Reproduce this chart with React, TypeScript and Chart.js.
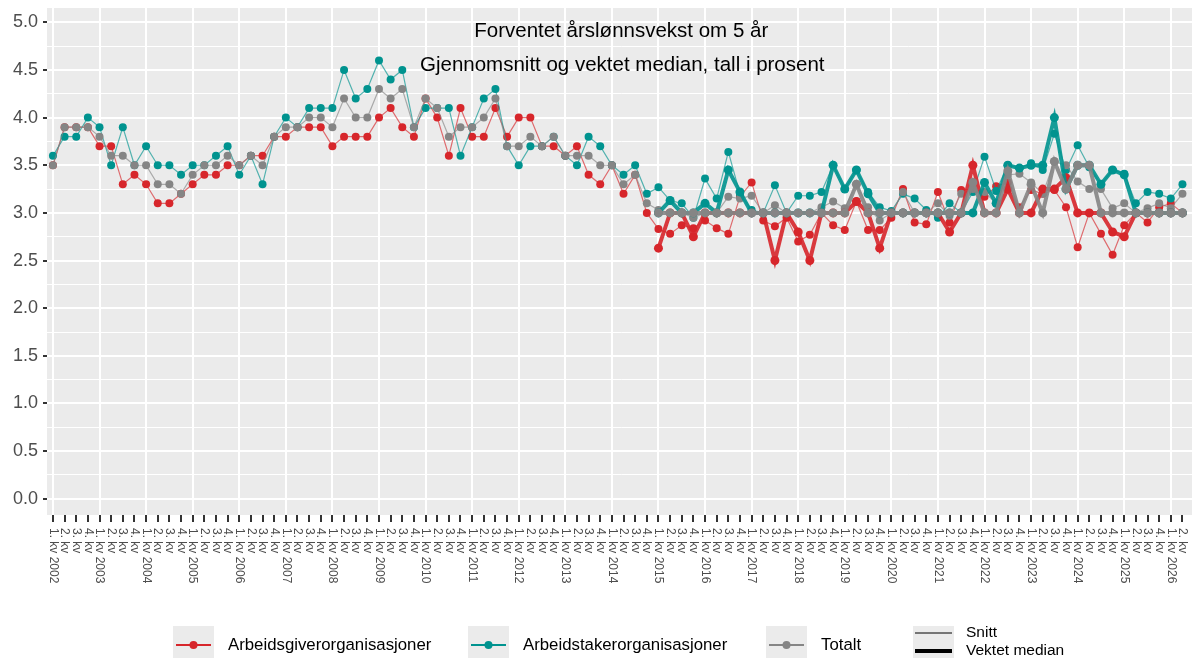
import React, { useEffect, useRef } from 'react';
import { Chart, registerables } from 'chart.js';

Chart.register(...registerables);

const FONT = '"Liberation Sans", Arial, Helvetica, sans-serif';

// Quarters 1. kv 2002 ... 2. kv 2026
const years = [2002, 2003, 2004, 2005, 2006, 2007, 2008, 2009, 2010, 2011, 2012, 2013, 2014, 2015, 2016, 2017, 2018, 2019, 2020, 2021, 2022, 2023, 2024, 2025, 2026];
const quarterNames = ['1. kv', '2. kv', '3. kv', '4. kv'];
const quarterCount = 98;
const medianStart = 52; // 1. kv 2015

// Snitt (gjennomsnitt)
const snittArbeidsgiver = [
  3.5, 3.9, 3.9, 3.9, 3.7, 3.7, 3.3, 3.4, 3.3, 3.1,
  3.1, 3.2, 3.3, 3.4, 3.4, 3.5, 3.5, 3.6, 3.6, 3.8,
  3.8, 3.9, 3.9, 3.9, 3.7, 3.8, 3.8, 3.8, 4.0, 4.1,
  3.9, 3.8, 4.2, 4.0, 3.6, 4.1, 3.8, 3.8, 4.1, 3.8,
  4.0, 4.0, 3.7, 3.7, 3.6, 3.7, 3.4, 3.3, 3.5, 3.2,
  3.4, 3.0,
  2.83, 2.78, 2.87, 2.84, 2.92, 2.84, 2.78, 3.17,
  3.32, 2.92, 2.86, 2.95, 2.70, 2.77, 3.0, 2.87, 2.82, 3.12,
  2.82, 2.82, 2.95, 3.25, 2.9, 2.88, 3.22, 2.9, 3.24, 3.25,
  3.17, 3.28, 3.32, 3.06, 3.24, 3.2, 3.24, 3.06, 2.64, 3.0,
  2.78, 2.56, 2.87, 3.0, 2.9, 3.06, 3.1, 3.0,
];
const snittArbeidstaker = [
  3.6, 3.8, 3.8, 4.0, 3.9, 3.5, 3.9, 3.5, 3.7, 3.5,
  3.5, 3.4, 3.5, 3.5, 3.6, 3.7, 3.4, 3.6, 3.3, 3.8,
  4.0, 3.9, 4.1, 4.1, 4.1, 4.5, 4.2, 4.3, 4.6, 4.4,
  4.5, 3.9, 4.1, 4.1, 4.1, 3.6, 3.9, 4.2, 4.3, 3.7,
  3.5, 3.7, 3.7, 3.8, 3.6, 3.5, 3.8, 3.7, 3.5, 3.4,
  3.5, 3.2,
  3.27, 3.13, 3.1, 2.95, 3.36, 3.15, 3.64, 3.2,
  3.03, 3.0, 3.29, 3.0, 3.18, 3.18, 3.22, 3.5, 3.25, 3.45,
  3.22, 3.06, 3.02, 3.2, 3.15, 3.03, 2.95, 3.1, 3.0, 3.22,
  3.59, 3.23, 3.5, 3.47, 3.52, 3.45, 3.83, 3.45, 3.71, 3.48,
  3.3, 3.45, 3.41, 3.1, 3.22, 3.2, 3.15, 3.3,
];
const snittTotalt = [
  3.5, 3.9, 3.9, 3.9, 3.8, 3.6, 3.6, 3.5, 3.5, 3.3,
  3.3, 3.2, 3.4, 3.5, 3.5, 3.6, 3.5, 3.6, 3.5, 3.8,
  3.9, 3.9, 4.0, 4.0, 3.9, 4.2, 4.0, 4.0, 4.3, 4.2,
  4.3, 3.9, 4.2, 4.1, 3.8, 3.9, 3.9, 4.0, 4.2, 3.7,
  3.7, 3.8, 3.7, 3.8, 3.6, 3.6, 3.6, 3.5, 3.5, 3.3,
  3.4, 3.1,
  3.03, 3.0, 3.0, 2.95, 3.0, 3.0, 3.17, 3.15,
  3.18, 3.0, 3.08, 3.0, 3.0, 3.0, 3.06, 3.12, 3.05, 3.3,
  3.06, 2.92, 3.0, 3.22, 3.0, 3.0, 3.1, 2.97, 3.2, 3.25,
  3.22, 3.1, 3.4, 3.41, 3.32, 3.2, 3.54, 3.5, 3.33, 3.25,
  3.25, 3.05, 3.1, 3.0, 3.05, 3.1, 3.05, 3.2,
];

// Vektet median (fra 1. kv 2015)
const medianArbeidsgiver = [
  2.63, 3.0, 3.0, 2.75, 3.0, 3.0, 3.0, 3.0,
  3.0, 3.0, 2.5, 3.0, 2.8, 2.5, 3.0, 3.0, 3.0, 3.12,
  3.0, 2.63, 3.0, 3.0, 3.0, 3.0, 3.0, 2.8, 3.0, 3.5,
  3.0, 3.0, 3.25, 3.0, 3.0, 3.25, 3.25, 3.37, 3.0, 3.0,
  3.0, 2.8, 2.75, 3.0, 3.0, 3.0, 3.0, 3.0,
];
const medianArbeidstaker = [
  3.0, 3.13, 3.0, 3.0, 3.1, 3.0, 3.45, 3.22,
  3.0, 3.0, 3.0, 3.0, 3.0, 3.0, 3.0, 3.5, 3.25, 3.45,
  3.2, 3.0, 3.0, 3.0, 3.0, 3.0, 3.0, 3.0, 3.0, 3.0,
  3.32, 3.1, 3.5, 3.47, 3.5, 3.5, 4.0, 3.25, 3.5, 3.5,
  3.3, 3.45, 3.4, 3.0, 3.0, 3.0, 3.0, 3.0,
];
const medianTotalt = [
  3.0, 3.0, 3.0, 3.0, 3.0, 3.0, 3.0, 3.0,
  3.0, 3.0, 3.0, 3.0, 3.0, 3.0, 3.0, 3.0, 3.0, 3.3,
  3.0, 3.0, 3.0, 3.0, 3.0, 3.0, 3.0, 3.0, 3.0, 3.32,
  3.0, 3.0, 3.44, 3.0, 3.3, 3.0, 3.54, 3.25, 3.5, 3.5,
  3.0, 3.0, 3.0, 3.0, 3.0, 3.0, 3.0, 3.0,
];

const yTickValues = [0, 0.25, 0.5, 0.75, 1, 1.25, 1.5, 1.75, 2, 2.25, 2.5, 2.75, 3, 3.25, 3.5, 3.75, 4, 4.25, 4.5, 4.75, 5];

const titleText = 'Forventet årslønnsvekst om 5 år';
const subtitleText = 'Gjennomsnitt og vektet median, tall i prosent';
const legendGroups = ['Arbeidsgiverorganisasjoner', 'Arbeidstakerorganisasjoner', 'Totalt'];
const legendTypes = ['Snitt', 'Vektet median'];

const RED = '#d7262b';
const TEAL = '#00938f';
const GRAY = '#858585';

const quarterLabels: string[] = [];
for (let i = 0; i < quarterCount; i++) {
  const y = years[Math.floor(i / 4)];
  const q = i % 4;
  quarterLabels.push(q === 0 ? `${quarterNames[q]} ${y}` : quarterNames[q]);
}

function toPoints(values: number[], start: number) {
  return values.map((v, j) => ({ x: start + j, y: v }));
}

function alpha(hex: string, a: number) {
  const r = parseInt(hex.slice(1, 3), 16);
  const g = parseInt(hex.slice(3, 5), 16);
  const b = parseInt(hex.slice(5, 7), 16);
  return `rgba(${r},${g},${b},${a})`;
}

const isMajor = (v: number) => Math.abs(v * 2 - Math.round(v * 2)) < 1e-6;

const panelPlugin = {
  id: 'panelBg',
  beforeDraw(chart: any) {
    const { ctx, chartArea } = chart;
    ctx.save();
    ctx.fillStyle = '#EBEBEB';
    ctx.fillRect(chartArea.left, chartArea.top, chartArea.right - chartArea.left, chartArea.bottom - chartArea.top);
    ctx.restore();
  },
};

const decorPlugin = {
  id: 'decor',
  afterDraw(chart: any) {
    const { ctx, chartArea } = chart;
    const xs = chart.scales.x;
    ctx.save();
    // x labels, rotated to read downward
    ctx.font = `12px ${FONT}`;
    ctx.fillStyle = '#4D4D4D';
    ctx.textAlign = 'left';
    ctx.textBaseline = 'middle';
    quarterLabels.forEach((lab, i) => {
      const x = xs.getPixelForValue(i);
      ctx.save();
      ctx.translate(x, chartArea.bottom + 13);
      ctx.rotate(Math.PI / 2);
      ctx.fillText(lab, 0, 0);
      ctx.restore();
    });
    // titles (centered over the panel)
    const cx = (chartArea.left + chartArea.right) / 2;
    ctx.fillStyle = '#000000';
    ctx.textAlign = 'center';
    ctx.font = `20.5px ${FONT}`;
    ctx.fillText(titleText, cx, 31);
    ctx.fillText(subtitleText, cx + 1, 65);

    // legend
    const colors = [RED, TEAL, GRAY];
    const boxX = [173, 468, 766];
    const boxTop = 626;
    const box = 41;
    ctx.textAlign = 'left';
    ctx.font = `16.8px ${FONT}`;
    legendGroups.forEach((name, k) => {
      const bx = boxX[k];
      ctx.fillStyle = '#EBEBEB';
      ctx.fillRect(bx, boxTop, box, box);
      const cy = 645;
      ctx.strokeStyle = colors[k];
      ctx.lineWidth = 2;
      ctx.beginPath();
      ctx.moveTo(bx + 3, cy);
      ctx.lineTo(bx + box - 3, cy);
      ctx.stroke();
      ctx.fillStyle = colors[k];
      ctx.beginPath();
      ctx.arc(bx + box / 2, cy, 4, 0, Math.PI * 2);
      ctx.fill();
      ctx.fillStyle = '#000000';
      ctx.fillText(name, bx + 55, cy);
    });
    const bx = 913;
    ctx.fillStyle = '#EBEBEB';
    ctx.fillRect(bx, boxTop, box, box);
    ctx.strokeStyle = '#000000';
    ctx.lineWidth = 1;
    ctx.beginPath();
    ctx.moveTo(bx + 2, 633);
    ctx.lineTo(bx + box - 2, 633);
    ctx.stroke();
    ctx.lineWidth = 4;
    ctx.beginPath();
    ctx.moveTo(bx + 2, 651);
    ctx.lineTo(bx + box - 2, 651);
    ctx.stroke();
    ctx.fillStyle = '#000000';
    ctx.font = `15.5px ${FONT}`;
    ctx.fillText(legendTypes[0], 966, 633);
    ctx.fillText(legendTypes[1], 966, 651);
    ctx.restore();
  },
};

function thin(label: string, values: number[], color: string, order: number) {
  return {
    label,
    data: toPoints(values, 0),
    borderColor: alpha(color, 0.65),
    backgroundColor: color,
    borderWidth: 1.2,
    pointRadius: 4,
    pointBorderWidth: 0,
    pointBackgroundColor: color,
    order,
  };
}
function thick(label: string, values: number[], color: string, order: number) {
  return {
    label,
    data: toPoints(values, medianStart),
    borderColor: alpha(color, 0.9),
    backgroundColor: color,
    borderWidth: 4,
    pointRadius: 4.5,
    pointBorderWidth: 0,
    pointBackgroundColor: color,
    order,
  };
}

const CANVAS_W = 1200;
const CANVAS_H = 658;

export default function App() {
  const ref = useRef<HTMLCanvasElement | null>(null);
  useEffect(() => {
    if (!ref.current) return;
    const chart = new Chart(ref.current, {
      type: 'line',
      data: {
        datasets: [
          thick('Totalt median', medianTotalt, GRAY, 1),
          thick('Arbeidstaker median', medianArbeidstaker, TEAL, 2),
          thick('Arbeidsgiver median', medianArbeidsgiver, RED, 3),
          thin('Totalt', snittTotalt, GRAY, 4),
          thin('Arbeidstakerorganisasjoner', snittArbeidstaker, TEAL, 5),
          thin('Arbeidsgiverorganisasjoner', snittArbeidsgiver, RED, 6),
        ] as any,
      },
      options: {
        responsive: false,
        devicePixelRatio: 1,
        animation: false,
        parsing: false as any,
        normalized: true,
        layout: { padding: { top: 8, left: 0, right: 0, bottom: 0 } },
        plugins: { legend: { display: false }, tooltip: { enabled: false }, title: { display: false } },
        elements: { line: { tension: 0 } },
        scales: {
          x: {
            type: 'linear',
            min: -0.51,
            max: 98.12,
            afterBuildTicks: (s: any) => {
              s.ticks = quarterLabels.map((_, i) => ({ value: i }));
            },
            afterFit: (s: any) => {
              s.height = 143;
              s.paddingLeft = 0;
              s.paddingRight = 0;
            },
            grid: {
              color: (c: any) => (c.tick && c.tick.value % 4 === 0 ? '#FFFFFF' : 'rgba(0,0,0,0)'),
              lineWidth: 2,
              tickColor: '#333333',
              tickWidth: 2,
              tickLength: 7,
              drawTicks: true,
            },
            border: { display: false },
            ticks: { display: false },
          },
          y: {
            type: 'linear',
            min: -0.17,
            max: 5.15,
            afterBuildTicks: (s: any) => {
              s.ticks = yTickValues.map((v) => ({ value: v }));
            },
            afterFit: (s: any) => {
              s.width = 47;
              s.paddingTop = 0;
              s.paddingBottom = 0;
            },
            grid: {
              color: '#FFFFFF',
              lineWidth: (c: any) => (c.tick && isMajor(c.tick.value) ? 2 : 1),
              tickColor: (c: any) => (c.tick && isMajor(c.tick.value) ? '#333333' : 'rgba(0,0,0,0)'),
              tickWidth: 2,
              tickLength: 4,
            },
            border: { display: false },
            ticks: {
              autoSkip: false,
              padding: 5,
              color: '#4D4D4D',
              font: { family: FONT, size: 18 },
              callback: (v: any) => (isMajor(Number(v)) ? Number(v).toFixed(1) : ''),
            },
          },
        },
      } as any,
      plugins: [panelPlugin, decorPlugin],
    });
    return () => chart.destroy();
  }, []);
  return (
    <div style={{ position: 'absolute', left: 0, top: 0, width: 1192, height: 658, overflow: 'hidden', background: '#ffffff' }}>
      <canvas ref={ref} width={CANVAS_W} height={CANVAS_H} style={{ display: 'block' }} />
    </div>
  );
}
